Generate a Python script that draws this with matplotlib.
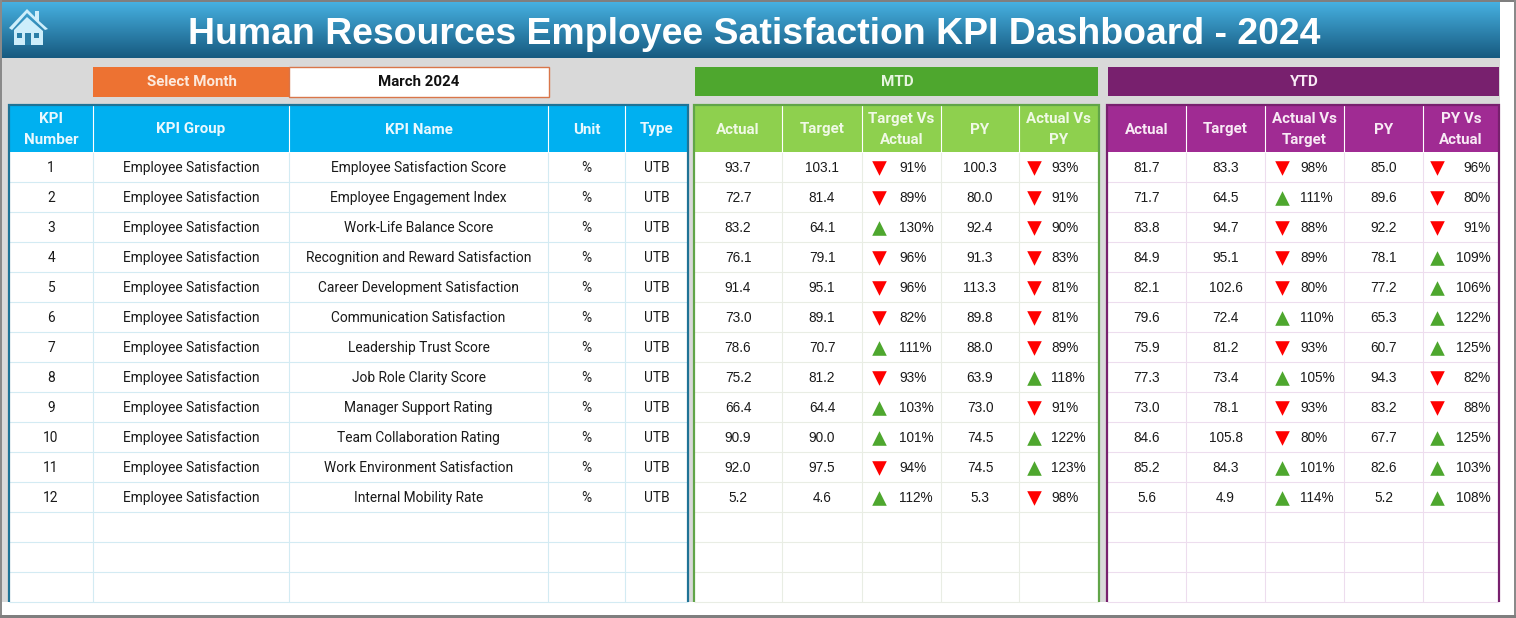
import numpy as np
import matplotlib
matplotlib.use('Agg')
import matplotlib.pyplot as plt
from matplotlib.patches import Rectangle, Polygon

TITLE = "Human Resources Employee Satisfaction KPI Dashboard - 2024"
MONTH = "March 2024"
kpi_names = ["Employee Satisfaction Score", "Employee Engagement Index", "Work-Life Balance Score",
             "Recognition and Reward Satisfaction", "Career Development Satisfaction", "Communication Satisfaction",
             "Leadership Trust Score", "Job Role Clarity Score", "Manager Support Rating",
             "Team Collaboration Rating", "Work Environment Satisfaction", "Internal Mobility Rate"]
kpi_group = "Employee Satisfaction"
kpi_unit = "%"
kpi_type = "UTB"
left_headers = ["KPI\nNumber", "KPI Group", "KPI Name", "Unit", "Type"]
mtd_headers = ["Actual", "Target", "Target Vs\nActual", "PY", "Actual Vs\nPY"]
ytd_headers = ["Actual", "Target", "Actual Vs\nTarget", "PY", "PY Vs\nActual"]

mtd_actual = [93.7, 72.7, 83.2, 76.1, 91.4, 73.0, 78.6, 75.2, 66.4, 90.9, 92.0, 5.2]
mtd_target = [103.1, 81.4, 64.1, 79.1, 95.1, 89.1, 70.7, 81.2, 64.4, 90.0, 97.5, 4.6]
mtd_tva = [91, 89, 130, 96, 96, 82, 111, 93, 103, 101, 94, 112]
mtd_py = [100.3, 80.0, 92.4, 91.3, 113.3, 89.8, 88.0, 63.9, 73.0, 74.5, 74.5, 5.3]
mtd_avp = [93, 91, 90, 83, 81, 81, 89, 118, 91, 122, 123, 98]
ytd_actual = [81.7, 71.7, 83.8, 84.9, 82.1, 79.6, 75.9, 77.3, 73.0, 84.6, 85.2, 5.6]
ytd_target = [83.3, 64.5, 94.7, 95.1, 102.6, 72.4, 81.2, 73.4, 78.1, 105.8, 84.3, 4.9]
ytd_avt = [98, 111, 88, 89, 80, 110, 93, 105, 93, 80, 101, 114]
ytd_py = [85.0, 89.6, 92.2, 78.1, 77.2, 65.3, 60.7, 94.3, 83.2, 67.7, 82.6, 5.2]
ytd_pva = [96, 80, 91, 109, 106, 122, 125, 82, 88, 125, 103, 108]

COND = 'Roboto'
NUM = 'Liberation Sans'

W, H = 1516, 618
fig = plt.figure(figsize=(W/100, H/100), dpi=100, facecolor='white')
ax = fig.add_axes([0, 0, 1, 1])
ax.set_xlim(0, W); ax.set_ylim(H, 0); ax.axis('off')

def rect(x0, y0, x1, y1, fc, ec='none', lw=0, z=1):
    ax.add_patch(Rectangle((x0, y0), x1-x0, y1-y0, fc=fc, ec=ec, lw=lw, zorder=z))

# backdrop
rect(2, 58, 1500, 602, '#D9D9D9')
rect(0, 0, W, 2, '#7F7F7F', z=6)
rect(0, 0, 2, H, '#8A8A8A', z=6)
rect(W-2, 0, W, H, '#8A8A8A', z=6)
rect(0, H-3, W, H, '#7F7F7F', z=6)

# title band gradient
c0, c1 = np.array([0x46, 0xB0, 0xE0])/255, np.array([0x17, 0x5A, 0x80])/255
t = np.linspace(0, 1, 56)[:, None, None]
ax.imshow(c0*(1-t)+c1*t, extent=(2, 1500, 58, 2), aspect='auto', zorder=2)
ax.set_xlim(0, W); ax.set_ylim(H, 0)
ax.text(754.5, 34.5, TITLE, color='white', ha='center', va='center', fontsize=26.9,
        family='Liberation Sans', weight='bold', zorder=3)

# home icon
hc = '#CDEEFB'
ax.add_patch(Polygon([[9, 28], [27, 9], [35, 17], [35, 11], [39, 11], [39, 21], [48, 29], [45, 30], [27, 13], [12, 30]],
                     fc=hc, ec='none', zorder=4))
ax.add_patch(Polygon([[14, 30], [27, 17], [43, 31], [43, 45], [14, 45]], fc=hc, ec='none', zorder=4))
rect(25, 33, 31, 45, '#2A7FA8', z=5)
rect(17, 33, 22, 38, '#2A7FA8', z=5)
rect(34, 33, 39, 38, '#2A7FA8', z=5)

# selector
rect(93, 67, 289, 97, '#ED7232', z=2)
rect(289, 67, 549, 97, 'white', ec='#D9764A', lw=1, z=2)
ax.text(192, 82, "Select Month", color='#FCE9DC', ha='center', va='center', fontsize=10.9,
        family=COND, weight='bold', zorder=3)
ax.text(419, 82, MONTH, color='#111111', ha='center', va='center', fontsize=10.8,
        family=COND, weight='bold', zorder=3)

# banners
rect(695, 67, 1098, 96, '#4EA72E', z=2)
rect(1108, 67, 1499, 96, '#78206E', z=2)
ax.text(897, 82, "MTD", color='#E8F5E0', ha='center', va='center', fontsize=11, family=COND, weight='bold', zorder=3)
ax.text(1304, 82, "YTD", color='#F8EAF5', ha='center', va='center', fontsize=11, family=COND, weight='bold', zorder=3)

# tables
ROW0, ROWH, NROWS = 152, 30, 15
HEAD0 = 105

def table(edges, head_c, border_c, grid_c, headers, head_tc):
    x0, x1 = edges[0], edges[-1]
    bottom = ROW0 + ROWH*NROWS
    rect(x0, ROW0, x1, bottom, 'white', z=2)
    rect(x0, HEAD0, x1, ROW0, head_c, z=2)
    for r in range(1, NROWS+1):
        ax.plot([x0, x1], [ROW0+ROWH*r-0.5]*2, color=grid_c, lw=0.8, zorder=3, solid_capstyle='butt')
    for e in edges[1:-1]:
        ax.plot([e, e], [ROW0, bottom], color=grid_c, lw=0.8, zorder=3, solid_capstyle='butt')
        ax.plot([e, e], [HEAD0, ROW0], color='white', lw=0.8, zorder=3, solid_capstyle='butt')
    ax.plot([x0, x0, x1, x1], [bottom, HEAD0, HEAD0, bottom], color=border_c, lw=1.6, zorder=5,
            solid_joinstyle='miter', solid_capstyle='butt')
    for i, h in enumerate(headers):
        ax.text((edges[i]+edges[i+1])/2, (HEAD0+ROW0)/2 + 1, h, color=head_tc, ha='center', va='center',
                fontsize=10.9, family=COND, weight='bold', linespacing=1.55, zorder=6)

def row_y(i):
    return ROW0 + ROWH*i + 16

left_edges = [9, 93, 289, 548, 625, 688]
mtd_edges = [694, 782, 862, 941, 1019, 1099]
ytd_edges = [1107, 1186, 1265, 1344, 1423, 1499]
table(left_edges, '#00B0F0', '#1F7396', '#D3EBF3', left_headers, '#E9F8FE')
table(mtd_edges, '#8ED04E', '#61A548', '#E9EDE4', mtd_headers, '#F0F9E6')
table(ytd_edges, '#A02B93', '#78206E', '#EDDDEE', ytd_headers, '#F8EAF5')

def cen(edges, i):
    return (edges[i]+edges[i+1])/2

TXT = '#1A1A1A'
for i, name in enumerate(kpi_names):
    y = row_y(i)
    for c, s in enumerate([str(i+1), kpi_group, name, kpi_unit, kpi_type]):
        ax.text(cen(left_edges, c), y, s, color=TXT, ha='center', va='center', fontsize=9.9,
                family=COND, zorder=6)

def num_col(edges, c, values):
    for i, v in enumerate(values):
        ax.text(cen(edges, c), row_y(i), f"{v:.1f}", color=TXT, ha='center', va='center',
                fontsize=9.8, family=NUM, zorder=6)

def pct_col(arrow_x, text_x, ha, values):
    for i, v in enumerate(values):
        ax.text(text_x, row_y(i), f"{v}%", color=TXT, ha=ha, va='center', fontsize=9.8, family=NUM, zorder=6)
    ys = np.array([row_y(i) - 0.5 for i in range(len(values))])
    up = np.array(values) >= 100
    ax.scatter(np.full(up.sum(), arrow_x), ys[up], marker='^', s=110, color='#4EA72E', linewidths=0, zorder=6)
    ax.scatter(np.full((~up).sum(), arrow_x), ys[~up], marker='v', s=110, color='#FF0000', linewidths=0, zorder=6)

num_col(mtd_edges, 0, mtd_actual)
num_col(mtd_edges, 1, mtd_target)
num_col(mtd_edges, 3, mtd_py)
pct_col(879, 899, 'left', mtd_tva)
pct_col(1034, 1051, 'left', mtd_avp)
num_col(ytd_edges, 0, ytd_actual)
num_col(ytd_edges, 1, ytd_target)
num_col(ytd_edges, 3, ytd_py)
pct_col(1282, 1300, 'left', ytd_avt)
pct_col(1437, 1491, 'right', ytd_pva)

fig.savefig('out.png', dpi=100, facecolor='white')
